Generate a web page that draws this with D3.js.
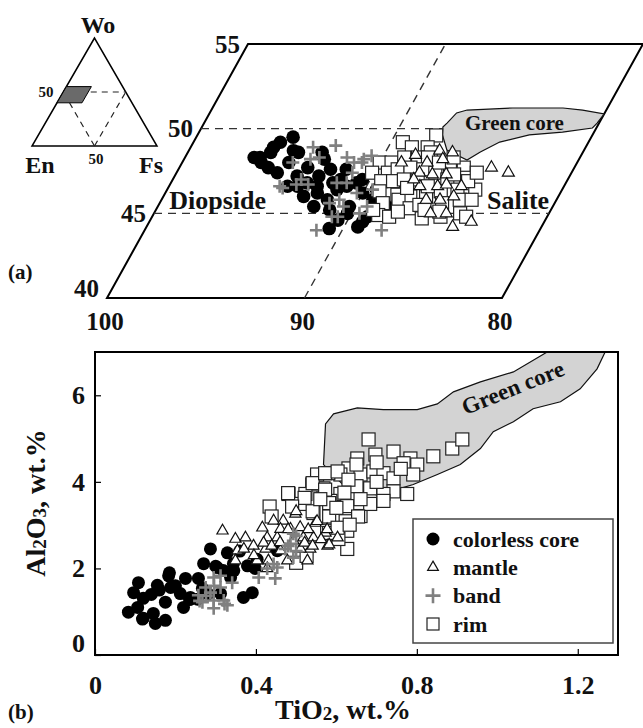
<!DOCTYPE html>
<html><head><meta charset="utf-8">
<script src="https://cdn.jsdelivr.net/npm/d3@7"></script>
<style>
body{margin:0;background:#fff;}
svg text{font-family:"Liberation Serif","Times New Roman",serif;font-weight:bold;fill:#111;}
</style></head><body>
<svg id="chart" width="643" height="728"></svg>
<script>
// ---------- DATA: panel (a)  [En-axis value, Wo] ----------
const coreA = [[96.5,48.3],[96.2,48.3],[95.8,48.6],[95.8,48.9],[95.6,49.2],[95.1,49.5],[95.5,47.7],[94.9,47.4],[94.6,48.0],[94.4,48.6],[93.8,47.2],[93.5,47.7],[93.1,46.8],[92.7,47.2],[92.9,48.2],[93.2,48.6],[92.3,47.6],[91.5,47.0],[92.3,46.2],[91.6,45.8],[91.4,46.4],[91.0,46.6],[90.6,46.8],[90.0,46.2],[89.3,45.8],[88.7,45.4],[88.4,45.4],[91.2,45.2],[90.5,44.6],[89.3,44.2],[89.1,44.8],[90.3,45.4],[92.1,45.4],[92.9,46.0],[89.4,46.4],[90.4,47.0],[91.5,47.6],[94.0,46.6],[91.8,46.8],[92.5,46.6],[93.5,46.6],[96.0,48.0],[94.7,48.7],[89.2,44.5],[90.7,44.1],[90.2,45.0]];
const bandA = [[93.8,48.9],[92.7,49.0],[91.8,48.3],[91.3,48.0],[90.9,48.0],[90.6,48.4],[94.4,48.0],[94.4,46.6],[93.6,46.7],[93.0,46.7],[91.1,47.4],[91.6,46.8],[91.4,45.6],[91.0,45.8],[90.3,46.2],[89.4,45.4],[89.6,45.0],[90.9,44.8],[91.3,44.0],[88.0,44.0],[93.2,48.3],[93.6,48.2],[93.5,47.0],[94.2,46.5],[91.1,46.8],[89.6,46.4],[90.6,45.4],[90.6,44.8],[90.9,48.2]];
const rimA = [[87.9,49.6],[89.4,49.2],[88.8,48.9],[88.0,48.9],[87.7,48.6],[90.0,48.0],[89.4,48.0],[88.9,48.3],[88.2,48.3],[87.7,48.3],[90.1,47.4],[89.3,47.4],[88.9,47.6],[88.3,47.7],[87.6,47.6],[86.9,47.4],[86.3,47.7],[85.6,47.7],[89.4,46.9],[88.8,46.9],[88.3,47.0],[87.6,47.0],[86.1,47.0],[85.2,47.1],[89.2,46.3],[88.2,46.1],[87.5,46.0],[86.7,46.0],[86.1,46.3],[85.3,46.4],[84.4,46.4],[88.7,45.6],[88.0,45.8],[87.2,45.3],[86.8,45.5],[85.7,45.6],[84.9,45.8],[84.3,45.8],[88.6,44.9],[88.0,44.8],[87.7,45.1],[86.3,44.7],[85.4,44.8],[84.5,45.0],[84.1,44.8],[87.0,48.0],[86.4,48.3],[85.9,47.3],[87.9,46.5],[86.4,45.2],[85.0,46.9],[84.8,47.4],[86.9,46.6],[85.6,45.1],[89.0,45.2]];
const mantleA = [[88.9,48.0],[88.4,48.45],[87.6,48.0],[87.3,48.7],[86.9,48.2],[86.6,48.6],[87.7,47.4],[87.0,47.3],[86.3,47.3],[87.3,46.6],[86.4,46.6],[86.0,46.7],[86.6,45.8],[85.9,45.8],[85.3,46.0],[86.0,45.0],[85.2,45.0],[84.5,44.2],[83.7,44.5],[84.2,47.7],[83.2,47.4],[87.8,47.0],[85.2,46.6]];
const greenA = [[87.8,50.1],[87.7,50.33],[87.5,50.93],[87.05,51.1],[84.8,51.22],[82.25,51.22],[81.2,51.1],[80.0,50.87],[80.1,50.33],[80.2,50.04],[81.6,49.8],[83.2,49.63],[84.5,49.21],[85.2,48.62],[85.65,48.15],[86.95,48.74],[87.6,49.63]];
const woTicksA = [40,45,50,55];
const enTicksA = [100,90,80];
const dashWoA = [[50,100,87.8],[45,100,80]];   // [Wo, from, to]
const dashEnA = [[90,40,55]];                  // [En, Wo from, Wo to]

// ---------- DATA: panel (b)  [TiO2, Al2O3] ----------
const coreB = [[0.083,0.99],[0.106,1.10],[0.108,1.67],[0.096,1.44],[0.120,1.31],[0.120,0.85],[0.150,0.73],[0.175,0.80],[0.145,0.96],[0.155,1.61],[0.183,1.83],[0.188,1.56],[0.212,1.42],[0.220,1.10],[0.225,1.77],[0.237,1.33],[0.257,1.77],[0.267,1.54],[0.270,2.11],[0.287,2.45],[0.304,2.02],[0.329,2.36],[0.319,1.95],[0.337,1.79],[0.344,2.11],[0.369,1.33],[0.391,1.44],[0.379,2.06],[0.453,2.41],[0.312,1.42],[0.175,1.22],[0.118,0.83],[0.185,1.90],[0.235,1.28],[0.255,1.29],[0.281,1.41],[0.160,1.50],[0.200,1.60],[0.140,1.40],[0.403,2.21],[0.398,2.00],[0.360,2.40],[0.345,1.95],[0.300,2.05]];
const rimB = [[0.680,4.98],[0.697,4.63],[0.652,4.54],[0.742,4.70],[0.784,4.54],[0.801,4.40],[0.767,4.43],[0.841,4.59],[0.888,4.77],[0.913,4.98],[0.791,4.17],[0.776,3.72],[0.630,4.31],[0.610,4.17],[0.580,4.20],[0.552,4.17],[0.660,4.17],[0.692,4.24],[0.717,4.20],[0.742,4.08],[0.684,3.85],[0.742,3.78],[0.717,3.72],[0.610,3.72],[0.568,3.85],[0.540,3.94],[0.523,3.72],[0.481,3.72],[0.511,3.49],[0.585,3.56],[0.627,3.44],[0.660,3.21],[0.684,3.49],[0.717,3.56],[0.592,3.10],[0.543,3.28],[0.627,2.87],[0.577,2.87],[0.627,2.45],[0.605,2.68],[0.434,3.43],[0.480,3.74],[0.521,3.63],[0.541,3.97],[0.572,4.20],[0.603,4.24],[0.572,3.82],[0.490,3.43],[0.541,3.32],[0.582,3.51],[0.582,3.20],[0.623,3.09],[0.654,3.20],[0.439,3.20],[0.500,2.13],[0.526,2.29],[0.582,2.82],[0.603,2.94],[0.633,3.01],[0.650,3.90],[0.700,4.00],[0.630,4.05],[0.760,4.30],[0.600,3.40],[0.660,3.60],[0.700,4.45],[0.620,3.75],[0.560,3.60],[0.650,4.40]];
const mantleB = [[0.317,2.87],[0.349,2.68],[0.374,2.71],[0.354,2.41],[0.394,2.52],[0.349,2.18],[0.416,2.94],[0.444,3.10],[0.468,3.10],[0.498,3.26],[0.428,2.71],[0.453,2.71],[0.424,2.45],[0.461,2.41],[0.493,2.64],[0.518,2.71],[0.543,2.71],[0.548,3.05],[0.403,2.18],[0.431,2.18],[0.478,2.18],[0.528,2.18],[0.535,2.45],[0.486,2.91],[0.578,2.52],[0.573,2.82],[0.428,2.00],[0.511,2.45],[0.461,2.91],[0.500,3.32],[0.552,3.09],[0.577,2.90],[0.582,2.55],[0.603,2.71],[0.419,2.59],[0.439,2.52],[0.521,2.59],[0.541,2.52],[0.562,2.67],[0.480,2.90],[0.370,2.45],[0.395,2.30],[0.510,2.95],[0.530,2.90],[0.460,2.60]];
const bandB = [[0.295,1.79],[0.275,1.56],[0.287,1.44],[0.257,1.38],[0.295,1.26],[0.267,1.22],[0.320,1.26],[0.295,1.08],[0.329,1.15],[0.341,1.67],[0.312,1.56],[0.407,1.79],[0.428,2.00],[0.448,1.77],[0.453,2.02],[0.486,2.57],[0.493,2.80],[0.473,2.45],[0.493,2.25],[0.312,1.83],[0.296,1.60],[0.260,1.25],[0.322,1.18],[0.276,1.37],[0.444,2.10],[0.480,2.52],[0.500,2.40],[0.500,2.75]];
const greenB = [[0.568,4.40],[0.573,5.34],[0.593,5.57],[0.652,5.71],[0.717,5.67],[0.801,5.67],[0.851,5.80],[0.891,6.08],[0.958,6.31],[1.040,6.54],[1.124,7.0],[1.268,7.0],[1.248,6.61],[1.206,6.15],[1.157,5.85],[1.089,5.69],[1.040,5.39],[0.990,5.16],[0.958,4.77],[0.908,4.40],[0.851,4.17],[0.791,3.94],[0.759,3.85],[0.70,3.70],[0.62,3.90]];
const xTicksB = [0,0.4,0.8,1.2];
const yTicksB = [0,2,4,6];
const legendNames = ["colorless core","mantle","band","rim"];
const legendTypes = ["circle","triangle","cross","square"];

// ---------- inset ternary (Wo, Fs in %) ----------
const insetBox = [[55,0],[55,20],[40,20],[40,0]];
const insetDash = [[[50,22],[50,50]],[[0,50],[50,50]],[[0,50],[40,10]]];

const svg = d3.select('#chart');

// ---------- marker drawing ----------
function marks(g, data, type, px, py, opt){
  const sel = g.selectAll(null).data(data).enter();
  if(type==='circle'){
    sel.append('circle').attr('cx',d=>px(d)).attr('cy',d=>py(d)).attr('r',opt.r).attr('fill','#000');
  } else if(type==='square'){
    sel.append('rect').attr('x',d=>px(d)-opt.s/2).attr('y',d=>py(d)-opt.s/2)
      .attr('width',opt.s).attr('height',opt.s).attr('fill','#fff').attr('stroke','#222').attr('stroke-width',1.2);
  } else if(type==='triangle'){
    const sym = d3.symbol(d3.symbolTriangle, opt.a);
    sel.append('path').attr('d',sym).attr('transform',d=>`translate(${px(d)},${py(d)})`)
      .attr('fill','#fff').attr('stroke','#111').attr('stroke-width',1.2);
  } else {
    const h = opt.h;
    sel.append('path').attr('d',`M${-h},0H${h}M0,${-h}V${h}`).attr('transform',d=>`translate(${px(d)},${py(d)})`)
      .attr('fill','none').attr('stroke','#808080').attr('stroke-width',2.6);
  }
}

// ================= PANEL (a) =================
const enScale = d3.scaleLinear().domain([100,80]).range([107,502]);
const woScale = d3.scaleLinear().domain([40,55]).range([298,44]);
const shear = d3.scaleLinear().domain([40,55]).range([0,141]);
const ax = d => enScale(d[0]) + shear(d[1]);
const ay = d => woScale(d[1]);
const ga = svg.append('g');

const frameA = [[100,40],[80,40],[80,55],[100,55]];
ga.append('path').attr('d', d3.line().x(ax).y(ay)(frameA)+'Z')
  .attr('fill','none').attr('stroke','#000').attr('stroke-width',2);

dashWoA.forEach(r=>{
  ga.append('path').attr('d', d3.line().x(ax).y(ay)([[r[1],r[0]],[r[2],r[0]]]))
    .attr('stroke','#333').attr('stroke-width',1.4).attr('stroke-dasharray','8,6').attr('fill','none');
});
dashEnA.forEach(r=>{
  ga.append('path').attr('d', d3.line().x(ax).y(ay)([[r[0],r[1]],[r[0],r[2]]]))
    .attr('stroke','#333').attr('stroke-width',1.4).attr('stroke-dasharray','8,6').attr('fill','none');
});
ga.append('path').attr('d', d3.line().x(ax).y(ay)(greenA)+'Z')
  .attr('fill','#d3d3d3').attr('stroke','#111').attr('stroke-width',1.2);

woTicksA.forEach(w=>{
  ga.append('text').attr('x', ax([100,w])-8).attr('y', ay([100,w]) + (w===40?-10:0))
    .attr('text-anchor','end').attr('dominant-baseline','central').style('font-size','25px').text(w);
});
enTicksA.forEach(e=>{
  ga.append('text').attr('x', ax([e,40])-2).attr('y', 321)
    .attr('text-anchor','middle').attr('dominant-baseline','central').style('font-size','25px').text(e);
});

marks(ga, coreA, 'circle', ax, ay, {r:6.8});
marks(ga, rimA, 'square', ax, ay, {s:13});
marks(ga, mantleA, 'triangle', ax, ay, {a:62});
marks(ga, bandA, 'cross', ax, ay, {h:6.5});

ga.append('text').attr('x',266).attr('y',200).attr('text-anchor','end').attr('dominant-baseline','central').style('font-size','26px').text('Diopside');
ga.append('text').attr('x',487).attr('y',200).attr('text-anchor','start').attr('dominant-baseline','central').style('font-size','26px').text('Salite');
ga.append('text').attr('x',465).attr('y',123).attr('text-anchor','start').attr('dominant-baseline','central').style('font-size','21px').text('Green core');
ga.append('text').attr('x',8).attr('y',272).attr('dominant-baseline','central').style('font-size','21px').text('(a)');

// ---------- inset ----------
const T = {ax:95, ay:38, lx:32, rx:157, by:146};
const tx = d => T.lx + (d[1]/100 + d[0]/200)*(T.rx-T.lx);
const ty = d => T.by - d[0]/100*(T.by-T.ay);
const gi = svg.append('g');
gi.append('path').attr('d', d3.line().x(tx).y(ty)([[100,0],[0,0],[0,100]])+'Z')
  .attr('fill','none').attr('stroke','#000').attr('stroke-width',1.5);
gi.append('path').attr('d', d3.line().x(tx).y(ty)(insetBox)+'Z')
  .attr('fill','#6a6a6a').attr('stroke','#000').attr('stroke-width',1);
insetDash.forEach(l=>{
  gi.append('path').attr('d', d3.line().x(tx).y(ty)(l)).attr('fill','none')
    .attr('stroke','#222').attr('stroke-width',1.2).attr('stroke-dasharray','6,5');
});
gi.append('text').attr('x',98).attr('y',25).attr('text-anchor','middle').attr('dominant-baseline','central').style('font-size','24px').text('Wo');
gi.append('text').attr('x',40).attr('y',165).attr('text-anchor','middle').attr('dominant-baseline','central').style('font-size','24px').text('En');
gi.append('text').attr('x',151).attr('y',165).attr('text-anchor','middle').attr('dominant-baseline','central').style('font-size','24px').text('Fs');
gi.append('text').attr('x',46).attr('y',92).attr('text-anchor','middle').attr('dominant-baseline','central').style('font-size','15px').text('50');
gi.append('text').attr('x',96).attr('y',159).attr('text-anchor','middle').attr('dominant-baseline','central').style('font-size','15px').text('50');

// ================= PANEL (b) =================
const xB = d3.scaleLinear().domain([0,1.3]).range([95,618]);
const yB = d3.scaleLinear().domain([0,7]).range([655,352]);
const bx = d => xB(d[0]), by = d => yB(d[1]);
const gb = svg.append('g');

svg.append('defs').append('clipPath').attr('id','clipB').append('rect')
  .attr('x',95).attr('y',352).attr('width',523).attr('height',303);

gb.append('path').attr('d', d3.line().x(bx).y(by)(greenB)+'Z').attr('clip-path','url(#clipB)')
  .attr('fill','#d3d3d3').attr('stroke','#111').attr('stroke-width',1.2);

const xAxis = gb.append('g').attr('transform','translate(0,655)')
  .call(d3.axisBottom(xB).tickValues(xTicksB).tickSizeInner(-6).tickSizeOuter(0).tickPadding(21)
    .tickFormat(d=> d===0 ? '0' : d3.format('.1f')(d)));
const yAxis = gb.append('g').attr('transform','translate(95,0)')
  .call(d3.axisLeft(yB).tickValues(yTicksB).tickSizeInner(-6).tickSizeOuter(0).tickPadding(10)
    .tickFormat(d3.format('d')));
[xAxis,yAxis].forEach(a=>{
  a.select('.domain').remove();
  a.selectAll('.tick line').attr('stroke','#000').attr('stroke-width',1.2);
  a.selectAll('.tick text').style('font-size','26px').attr('fill','#111')
    .style('font-family','"Liberation Serif","Times New Roman",serif').style('font-weight','bold');
});
yAxis.selectAll('.tick').filter(d=>d===0).select('text').attr('y',-12);

marks(gb, coreB, 'circle', bx, by, {r:6.5});
marks(gb, rimB, 'square', bx, by, {s:13});
marks(gb, mantleB, 'triangle', bx, by, {a:55});
marks(gb, bandB, 'cross', bx, by, {h:6.5});

gb.append('rect').attr('x',95).attr('y',352).attr('width',523).attr('height',303)
  .attr('fill','none').attr('stroke','#000').attr('stroke-width',2);

gb.append('text').attr('transform','translate(513,388) rotate(-22)').attr('text-anchor','middle')
  .attr('dominant-baseline','central').style('font-size','23px').text('Green core');

// legend
const lg = gb.append('g');
lg.append('rect').attr('x',413).attr('y',519).attr('width',200).attr('height',124)
  .attr('fill','#fff').attr('stroke','#444').attr('stroke-width',1.5);
const rowY = d3.scalePoint().domain(legendNames).range([539,624]);
legendNames.forEach((n,i)=>{
  const y = rowY(n);
  const g = lg.append('g');
  marks(g, [[433,y]], legendTypes[i], d=>d[0], d=>d[1],
    {r:6.5, s:12, a:50, h:7.5});
  lg.append('text').attr('x',453).attr('y',y).attr('dominant-baseline','central').style('font-size','22px').text(n);
});

// axis titles
const xt = gb.append('text').attr('x',343).attr('y',709).attr('text-anchor','middle').attr('dominant-baseline','central').style('font-size','28px');
xt.append('tspan').text('TiO');
xt.append('tspan').text('2').style('font-size','19px').attr('dy','4');
xt.append('tspan').text(', wt.%').attr('dy','-4');

const yt = gb.append('text').attr('transform','translate(35,503) rotate(-90)').attr('text-anchor','middle').attr('dominant-baseline','central').style('font-size','28px');
yt.append('tspan').text('Al');
yt.append('tspan').text('2').style('font-size','19px').attr('dy','4');
yt.append('tspan').text('O').attr('dy','-4');
yt.append('tspan').text('3').style('font-size','19px').attr('dy','4');
yt.append('tspan').text(', wt.%').attr('dy','-4');

gb.append('text').attr('x',8).attr('y',712).attr('dominant-baseline','central').style('font-size','21px').text('(b)');
</script>
</body></html>
